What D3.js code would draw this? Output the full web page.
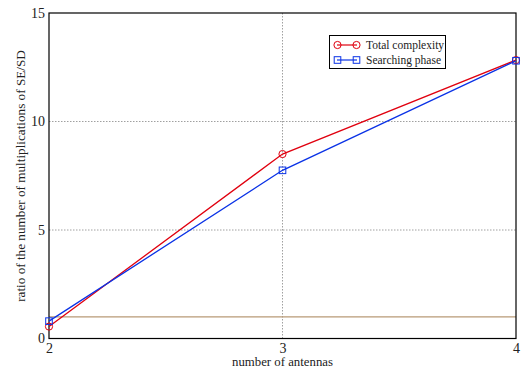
<!DOCTYPE html>
<html>
<head>
<meta charset="utf-8">
<script src="https://cdn.jsdelivr.net/npm/d3@7"></script>
<style>
  html, body { margin: 0; padding: 0; background: #fff; }
  svg text { font-family: "Liberation Serif", "Times New Roman", serif; fill: #222; }
</style>
</head>
<body>
<svg id="chart" width="524" height="368"></svg>
<script>
// Number of antennas on the x axis
const antennas = [2, 3, 4];
// Ratio of multiplications SE/SD
const totalComplexity = [0.55, 8.5, 12.83];
const searchingPhase = [0.8, 7.75, 12.8];
// Reference level
const referenceLevel = 1;
const xTicks = [2, 3, 4];
const yTicks = [0, 5, 10, 15];
const seriesNames = ["Total complexity", "Searching phase"];

const SERIF = "'Liberation Serif', 'Times New Roman', serif";
const svg = d3.select("#chart");
const m = { left: 49, right: 516, top: 13, bottom: 338.5 };

const x = d3.scaleLinear().domain([2, 4]).range([m.left, m.right]);
const y = d3.scaleLinear().domain([0, 15]).range([m.bottom, m.top]);

// dotted grid lines
const grid = svg.append("g").attr("stroke", "#888").attr("stroke-width", 0.8)
  .attr("stroke-dasharray", "1.5,1.5");
yTicks.filter(t => t > 0 && t < 15).forEach(t => {
  grid.append("line").attr("x1", x(2)).attr("x2", x(4)).attr("y1", y(t)).attr("y2", y(t));
});
xTicks.filter(t => t > 2 && t < 4).forEach(t => {
  grid.append("line").attr("x1", x(t)).attr("x2", x(t)).attr("y1", y(0)).attr("y2", y(15));
});

// reference line
svg.append("line")
  .attr("x1", x(2)).attr("x2", x(4))
  .attr("y1", y(referenceLevel)).attr("y2", y(referenceLevel))
  .attr("stroke", "#b89a76").attr("stroke-width", 1.2);

// frame
svg.append("rect")
  .attr("x", m.left).attr("y", m.top)
  .attr("width", m.right - m.left).attr("height", m.bottom - m.top)
  .attr("fill", "none").attr("stroke", "#000").attr("stroke-width", 1.2);

// axes (labels only)
const xAxis = d3.axisBottom(x).tickValues(xTicks).tickSize(0).tickPadding(5).tickFormat(d3.format("d"));
const gx = svg.append("g").attr("transform", `translate(0,${m.bottom})`).call(xAxis);
gx.attr("font-family", SERIF);
gx.select(".domain").remove();
gx.selectAll("text").attr("font-size", 14).style("font-family", SERIF).attr("fill", "#222");

const yAxis = d3.axisLeft(y).tickValues(yTicks).tickSize(0).tickPadding(4).tickFormat(d3.format("d"));
const gy = svg.append("g").attr("transform", `translate(${m.left},0)`).call(yAxis);
gy.attr("font-family", SERIF);
gy.select(".domain").remove();
gy.selectAll("text").attr("font-size", 14).style("font-family", SERIF).attr("fill", "#222");

// axis titles
svg.append("text")
  .attr("x", x(3)).attr("y", 366)
  .attr("text-anchor", "middle").attr("font-size", 12.8)
  .style("font-family", SERIF)
  .text("number of antennas");
svg.append("text")
  .attr("transform", `translate(25,176) rotate(-90)`)
  .attr("text-anchor", "middle").attr("font-size", 13.2)
  .style("font-family", SERIF)
  .text("ratio of the number of multiplications of SE/SD");

const line = d3.line().x(d => x(d[0])).y(d => y(d[1]));

function drawSeries(values, color, marker) {
  const pts = antennas.map((a, i) => [a, values[i]]);
  svg.append("path").datum(pts)
    .attr("d", line).attr("fill", "none")
    .attr("stroke", color).attr("stroke-width", 1.3);
  const g = svg.append("g");
  pts.forEach(p => drawMarker(g, x(p[0]), y(p[1]), color, marker));
}

function drawMarker(g, cx, cy, color, marker) {
  if (marker === "circle") {
    g.append("circle").attr("cx", cx).attr("cy", cy).attr("r", 3.6)
      .attr("fill", "none").attr("stroke", color).attr("stroke-width", 1);
  } else {
    g.append("rect").attr("x", cx - 3.3).attr("y", cy - 3.3)
      .attr("width", 6.6).attr("height", 6.6)
      .attr("fill", "none").attr("stroke", color).attr("stroke-width", 1);
  }
}

drawSeries(totalComplexity, "#e0000f", "circle");
drawSeries(searchingPhase, "#0a32e6", "square");

// legend
const lg = svg.append("g");
lg.append("rect").attr("x", 329.5).attr("y", 35.5).attr("width", 116).attr("height", 33)
  .attr("fill", "#fff").attr("stroke", "#000").attr("stroke-width", 1);
const legendItems = [
  { name: seriesNames[0], color: "#e0000f", marker: "circle", yy: 45 },
  { name: seriesNames[1], color: "#0a32e6", marker: "square", yy: 60 }
];
legendItems.forEach(it => {
  lg.append("line").attr("x1", 337).attr("x2", 357).attr("y1", it.yy).attr("y2", it.yy)
    .attr("stroke", it.color).attr("stroke-width", 1.2);
  drawMarker(lg, 337.5, it.yy, it.color, it.marker);
  drawMarker(lg, 356.5, it.yy, it.color, it.marker);
  lg.append("text").attr("x", 366).attr("y", it.yy + 4).attr("font-size", 11.5)
    .style("font-family", SERIF).text(it.name);
});
</script>
</body>
</html>
